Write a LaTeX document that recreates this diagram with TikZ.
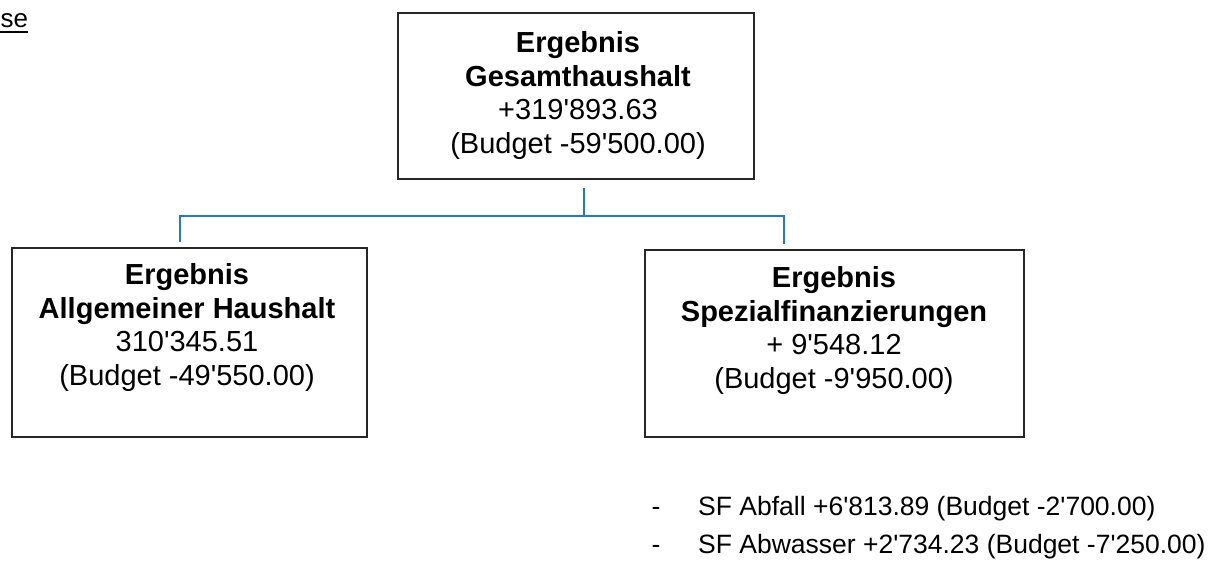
\documentclass[tikz,border=0pt]{standalone}
\usepackage{fontspec}
\setmainfont{Liberation Sans}
\usetikzlibrary{calc}
\definecolor{connblue}{RGB}{35,120,200}
\newcommand{\apos}{\textquotesingle}
\begin{document}
\begin{tikzpicture}[x=1pt,y=-1pt,
  box/.style={draw=black!85, line width=1.8pt, rectangle, inner sep=0pt},
  boxtext/.style={anchor=north, inner sep=0pt, align=center, font=\fontsize{29}{33.5}\selectfont},
  conn/.style={draw=connblue, line width=1.8pt},
  listtext/.style={anchor=base west, inner sep=0pt, font=\fontsize{26.5}{30}\selectfont},
  listdash/.style={anchor=base, inner sep=0pt, font=\fontsize{26.5}{30}\selectfont}]
\useasboundingbox (0,0) rectangle (1209,560);

% heading fragment
\node[anchor=base west, inner sep=0pt, font=\fontsize{26}{30}\selectfont] (se) at (0.5,27) {se};
\draw[line width=1.6pt] (0,32) -- (se.east |- 0,32);

% boxes
\node[box, minimum width=356pt, minimum height=166pt] (top) at (576,96) {};
\node[box, minimum width=355pt, minimum height=189pt] (left) at (189.5,342.5) {};
\node[box, minimum width=379pt, minimum height=187pt] (right) at (834.5,343.5) {};

\node[boxtext] (toptext) at (578,31.4) {\textbf{Ergebnis}\\\textbf{Gesamthaushalt}\\+319\apos 893.63\\(Budget -59\apos 500.00)};
\node[boxtext] (lefttext) at (187,263.4) {\textbf{Ergebnis}\\\textbf{Allgemeiner Haushalt}\\310\apos 345.51\\(Budget -49\apos 550.00)};
\node[boxtext] (righttext) at (834,266.4) {\textbf{Ergebnis}\\\textbf{Spezialfinanzierungen}\\+ 9\apos 548.12\\(Budget -9\apos 950.00)};

% connectors
\coordinate (jn) at (584,216);
\coordinate (la) at ($(left.north)+(-9.5,-5)$);
\coordinate (ra) at ($(right.north)+(-50.5,-5)$);
\draw[conn] ($(top.south)+(8,8)$) -- (jn);
\draw[conn] (la) -- (la |- jn) -- (ra |- jn) -- (ra);

% list
\node[listdash] (d1) at (656,515) {-};
\node[listtext] (l1) at (698,515) {SF Abfall +6\apos 813.89 (Budget -2\apos 700.00)};
\node[listdash] (d2) at (656,553) {-};
\node[listtext] (l2) at (698,553) {SF Abwasser +2\apos 734.23 (Budget -7\apos 250.00)};
\end{tikzpicture}
\end{document}
